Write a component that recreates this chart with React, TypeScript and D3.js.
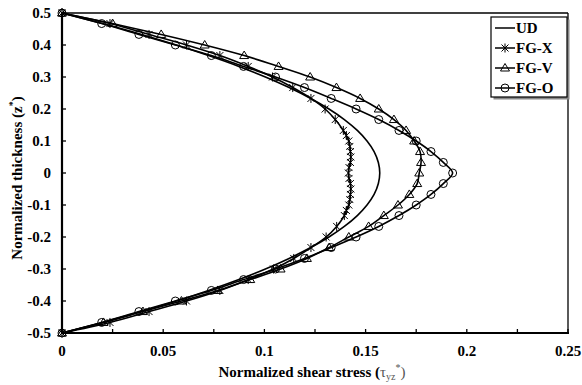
import React from "react";
import * as d3 from "d3";

// ---- data ----
const zGrid = [0.5, 0.467, 0.433, 0.4, 0.367, 0.333, 0.3, 0.267, 0.233, 0.2, 0.167, 0.133, 0.1, 0.067, 0.033, 0,
  -0.033, -0.067, -0.1, -0.133, -0.167, -0.2, -0.233, -0.267, -0.3, -0.333, -0.367, -0.4, -0.433, -0.467, -0.5];

const udValues = [0, 0.02, 0.0393, 0.0565, 0.0724, 0.0874, 0.1005, 0.1122, 0.1229, 0.1319, 0.1395, 0.1459, 0.1507, 0.1542, 0.1563, 0.157,
  0.1563, 0.1542, 0.1507, 0.1459, 0.1395, 0.1319, 0.1229, 0.1122, 0.1005, 0.0874, 0.0724, 0.0565, 0.0393, 0.02, 0];

const fgxZ = [0.5, 0.467, 0.433, 0.4, 0.367, 0.333, 0.3, 0.267, 0.233, 0.2, 0.167, 0.133, 0.117, 0.1, 0.083, 0.067, 0.05, 0.033, 0.017, 0,
  -0.017, -0.033, -0.05, -0.067, -0.083, -0.1, -0.117, -0.133, -0.167, -0.2, -0.233, -0.267, -0.3, -0.333, -0.367, -0.4, -0.433, -0.467, -0.5];
const fgxValues = [0, 0.0237, 0.043, 0.0615, 0.078, 0.092, 0.104, 0.114, 0.123, 0.13, 0.135, 0.139, 0.1405, 0.1417, 0.1422, 0.1425, 0.1427, 0.1425, 0.1418, 0.1415,
  0.1418, 0.1425, 0.1427, 0.1425, 0.1422, 0.1417, 0.1405, 0.1395, 0.1357, 0.1305, 0.123, 0.1145, 0.1045, 0.092, 0.078, 0.0615, 0.043, 0.0237, 0];

const fgvValues = [0, 0.025, 0.049, 0.0705, 0.09, 0.107, 0.1226, 0.1356, 0.1473, 0.1565, 0.164, 0.17, 0.174, 0.1769, 0.1774, 0.1765,
  0.1755, 0.1716, 0.166, 0.159, 0.1515, 0.1417, 0.132, 0.121, 0.108, 0.093, 0.077, 0.059, 0.04, 0.0205, 0];

const fgoValues = [0, 0.0196, 0.038, 0.056, 0.0738, 0.0897, 0.1055, 0.1198, 0.133, 0.1453, 0.1565, 0.1665, 0.175, 0.1823, 0.1884, 0.193,
  0.1884, 0.1823, 0.175, 0.1665, 0.1565, 0.1453, 0.133, 0.1198, 0.1055, 0.0897, 0.0738, 0.056, 0.038, 0.0196, 0];

const xTickLabels = [0, 0.05, 0.1, 0.15, 0.2, 0.25];
const xTickMarks = [0, 0.025, 0.05, 0.075, 0.1, 0.125, 0.15, 0.175, 0.2, 0.225, 0.25];
const yTicks = [0.5, 0.4, 0.3, 0.2, 0.1, 0, -0.1, -0.2, -0.3, -0.4, -0.5];
const legendNames = ["UD", "FG-X", "FG-V", "FG-O"];

// ---- layout ----
const W = 582, H = 385;
const L = 62, R = 568, T = 13, B = 333;
const FONT = "'Liberation Serif', 'Times New Roman', serif";

const x = d3.scaleLinear().domain([0, 0.25]).range([L, R]);
const y = d3.scaleLinear().domain([-0.5, 0.5]).range([B, T]);

type Pt = { v: number; z: number };
const mk = (zs: number[], vs: number[]): Pt[] => zs.map((z, i) => ({ z, v: vs[i] }));

const series = [
  { name: "UD", pts: mk(zGrid, udValues), marker: "none" },
  { name: "FG-X", pts: mk(fgxZ, fgxValues), marker: "star" },
  { name: "FG-V", pts: mk(zGrid, fgvValues), marker: "tri" },
  { name: "FG-O", pts: mk(zGrid, fgoValues), marker: "circle" },
];

const line = d3.line<Pt>().x(d => x(d.v)).y(d => y(d.z)).curve(d3.curveCatmullRom.alpha(0.5));

function Marker({ kind, cx, cy }: { kind: string; cx: number; cy: number }) {
  const s = { stroke: "#000", strokeWidth: 1, fill: "none" } as const;
  if (kind === "circle") return <circle cx={cx} cy={cy} r={4} {...s} />;
  if (kind === "tri") {
    const p = `${cx},${cy - 4.5} ${cx + 4.5},${cy + 3} ${cx - 4.5},${cy + 3}`;
    return <polygon points={p} {...s} />;
  }
  if (kind === "star") {
    const a = 3.5;
    return (
      <g {...s}>
        <line x1={cx - a} y1={cy - a} x2={cx + a} y2={cy + a} />
        <line x1={cx - a} y1={cy + a} x2={cx + a} y2={cy - a} />
        <line x1={cx} y1={cy - 4.5} x2={cx} y2={cy + 4.5} />
      </g>
    );
  }
  return null;
}

export default function App() {
  const legendY = [28, 48, 68, 88];
  return (
    <svg width={W} height={H} style={{ position: "absolute", left: 0, top: 0, background: "#fff" }} fontFamily={FONT}>
      <rect x={0} y={0} width={W} height={H} fill="#fff" />
      {/* frame */}
      <line x1={L} y1={T} x2={R} y2={T} stroke="#000" strokeWidth={1.3} />
      <line x1={R} y1={T} x2={R} y2={B} stroke="#000" strokeWidth={1.3} />
      {/* ticks */}
      {xTickMarks.map(t => (
        <line key={"xt" + t} x1={x(t)} x2={x(t)} y1={B} y2={B - 4} stroke="#000" strokeWidth={1.3} />
      ))}
      {yTicks.map(t => (
        <line key={"yt" + t} x1={L} x2={L + 4} y1={y(t)} y2={y(t)} stroke="#000" strokeWidth={1.3} />
      ))}
      {/* series */}
      {series.map(s => (
        <path key={s.name} d={line(s.pts) || ""} fill="none" stroke="#000" strokeWidth={1.6} />
      ))}
      {series.map(s =>
        s.marker === "none" ? null : (
          <g key={"m" + s.name}>
            {s.pts.map((p, i) => (
              <Marker key={i} kind={s.marker} cx={x(p.v)} cy={y(p.z)} />
            ))}
          </g>
        )
      )}
      {/* axes */}
      <line x1={L} y1={T - 1} x2={L} y2={B + 1} stroke="#000" strokeWidth={2.2} />
      <line x1={L - 1} y1={B} x2={R + 1} y2={B} stroke="#000" strokeWidth={2.2} />
      {/* tick labels */}
      {xTickLabels.map(t => (
        <text key={"xl" + t} x={x(t)} y={356} textAnchor="middle" fontSize={15} fontWeight="bold">
          {String(t)}
        </text>
      ))}
      {yTicks.map(t => (
        <text key={"yl" + t} x={51} y={y(t)} dy="0.35em" textAnchor="end" fontSize={15} fontWeight="bold">
          {String(t)}
        </text>
      ))}
      {/* axis titles */}
      <text x={312} y={377} textAnchor="middle" fontSize={15} fontWeight="bold">
        Normalized shear stress (<tspan fill="#555" fontWeight="normal">τ</tspan>
        <tspan fill="#555" fontWeight="normal" fontSize={10} dy={3}>yz</tspan>
        <tspan fill="#555" fontWeight="normal" fontSize={10} dy={-9}>*</tspan>
        <tspan fill="#555" fontWeight="normal" dy={6}>)</tspan>
      </text>
      <text transform="translate(22,178) rotate(-90)" textAnchor="middle" fontSize={15} fontWeight="bold">
        Normalized thickness (z<tspan fontSize={10} dy={-6}>*</tspan><tspan dy={6}>)</tspan>
      </text>
      {/* legend */}
      <rect x={493.5} y={19.5} width={76} height={80} fill="#888" />
      <rect x={491} y={17} width={76} height={80} fill="#fff" stroke="#000" strokeWidth={1.2} />
      {legendNames.map((n, i) => {
        const s = series[i];
        const ly = legendY[i];
        return (
          <g key={"lg" + n}>
            <line x1={495} x2={515} y1={ly} y2={ly} stroke="#000" strokeWidth={1.5} />
            <Marker kind={s.marker} cx={505} cy={ly} />
            <text x={516} y={ly} dy="0.35em" fontSize={15} fontWeight="bold">{n}</text>
          </g>
        );
      })}
    </svg>
  );
}
